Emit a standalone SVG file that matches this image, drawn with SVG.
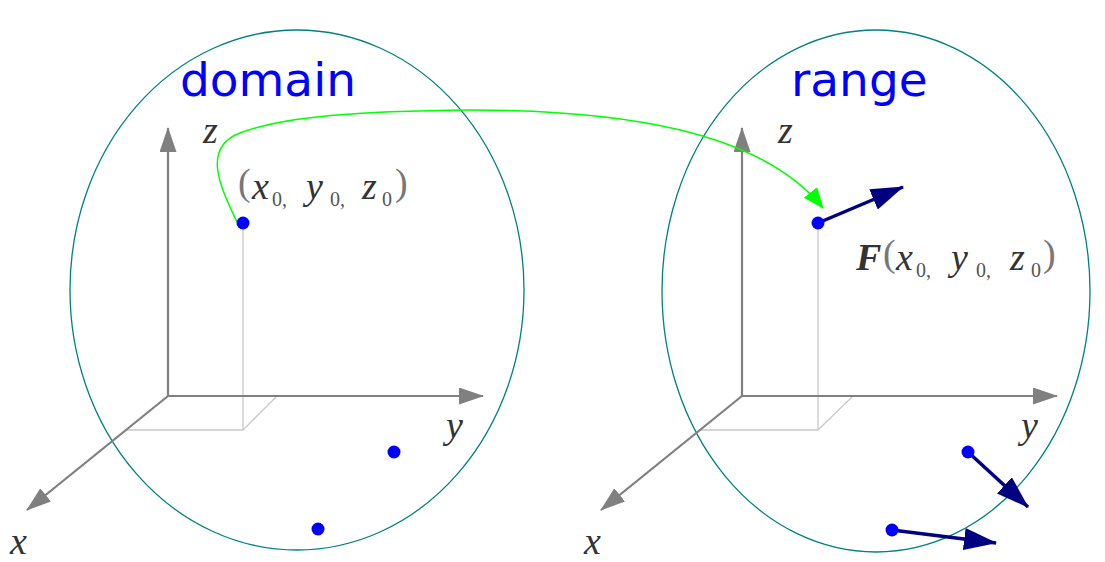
<svg xmlns="http://www.w3.org/2000/svg" width="1105" height="562" viewBox="0 0 1105 562">
<style>
.ell{fill:none;stroke:#008080;stroke-width:1.3}
.axis{fill:none;stroke:#808080;stroke-width:2.2}
.guide{fill:none;stroke:#c8c8c8;stroke-width:1.3}
.pt{fill:#0000ff}
.vec{fill:none;stroke:#000080;stroke-width:3.5}
.title{font-family:"DejaVu Sans",sans-serif;font-size:47px;fill:#0000ff}
.m{font-family:"Liberation Serif",serif;font-style:italic;font-size:38px;fill:#333}
.sub{font-family:"Liberation Serif",serif;font-size:20px;fill:#555}
.par{font-family:"Liberation Serif",serif;font-size:38px;fill:#777}
.F{font-family:"Liberation Serif",serif;font-style:italic;font-weight:bold;font-size:38px;fill:#333}
</style>
<defs>
<marker id="ag" markerUnits="userSpaceOnUse" markerWidth="26" markerHeight="18" refX="24" refY="8.5" orient="auto"><path d="M0,0 L25,8.5 L0,17 Z" fill="#808080"/></marker>
<marker id="an" markerUnits="userSpaceOnUse" markerWidth="34" markerHeight="24" refX="32" refY="11" orient="auto"><path d="M0,0 L33,11 L0,22 Z" fill="#000080"/></marker>
<marker id="agr" markerUnits="userSpaceOnUse" markerWidth="22" markerHeight="18" refX="20" refY="8.5" orient="auto"><path d="M0,0 L21,8.5 L0,17 Z" fill="#00ff00"/></marker>
</defs>

<g id="domain">
<ellipse class="ell" cx="297" cy="290" rx="227" ry="260"/>
<text class="title" x="180" y="96">domain</text>
</g>
<g id="range">
<ellipse class="ell" cx="876" cy="291" rx="214" ry="261"/>
<text class="title" x="791" y="96">range</text>
</g>

<g id="axes-left">
<path class="guide" d="M243,223 V430 H126 M243,430 L277,396"/>
<line class="axis" x1="168" y1="396" x2="168" y2="128" marker-end="url(#ag)"/>
<line class="axis" x1="168" y1="396" x2="483" y2="396" marker-end="url(#ag)"/>
<line class="axis" x1="168" y1="396" x2="27" y2="510" marker-end="url(#ag)"/>
<text class="m" x="203" y="143">z</text>
<text class="m" x="446" y="438">y</text>
<text class="m" x="10" y="554">x</text>
</g>

<g id="axes-right">
<path class="guide" d="M818,223 V430 H700 M818,430 L853,396"/>
<line class="axis" x1="742" y1="396" x2="742" y2="128" marker-end="url(#ag)"/>
<line class="axis" x1="742" y1="396" x2="1057" y2="396" marker-end="url(#ag)"/>
<line class="axis" x1="742" y1="396" x2="601" y2="510" marker-end="url(#ag)"/>
<text class="m" x="778" y="143">z</text>
<text class="m" x="1021" y="438">y</text>
<text class="m" x="584" y="554">x</text>
</g>

<g id="connectors">
<path d="M237,222 C222,190 200,148 240,133 C285,116 360,111 470,110 C620,110 760,130 823,208" fill="none" stroke="#00ff00" stroke-width="1.5" marker-end="url(#agr)"/>
<line class="vec" x1="818" y1="223" x2="903" y2="187" marker-end="url(#an)"/>
<line class="vec" x1="968" y1="452" x2="1028" y2="507" marker-end="url(#an)"/>
<line class="vec" x1="892" y1="530" x2="996" y2="543" marker-end="url(#an)"/>
</g>

<g id="points">
<circle class="pt" cx="243" cy="223" r="6.5"/>
<circle class="pt" cx="394" cy="452" r="6.5"/>
<circle class="pt" cx="318" cy="529" r="6.5"/>
<circle class="pt" cx="818" cy="223" r="6.5"/>
<circle class="pt" cx="968" cy="452" r="6.5"/>
<circle class="pt" cx="892" cy="530" r="6.5"/>
</g>

<g id="label-point">
<text class="par" x="238" y="195">(</text>
<text class="m" x="252" y="199">x</text>
<text class="sub" x="272" y="206">0,</text>
<text class="m" x="306" y="199">y</text>
<text class="sub" x="330" y="206">0,</text>
<text class="m" x="362" y="199">z</text>
<text class="sub" x="382" y="206">0</text>
<text class="par" x="395" y="195">)</text>
</g>

<g id="label-F">
<text class="F" x="856" y="270">F</text>
<text class="par" x="883" y="266">(</text>
<text class="m" x="896" y="270">x</text>
<text class="sub" x="916" y="277">0,</text>
<text class="m" x="951" y="270">y</text>
<text class="sub" x="976" y="277">0,</text>
<text class="m" x="1010" y="270">z</text>
<text class="sub" x="1031" y="277">0</text>
<text class="par" x="1043" y="266">)</text>
</g>
</svg>
